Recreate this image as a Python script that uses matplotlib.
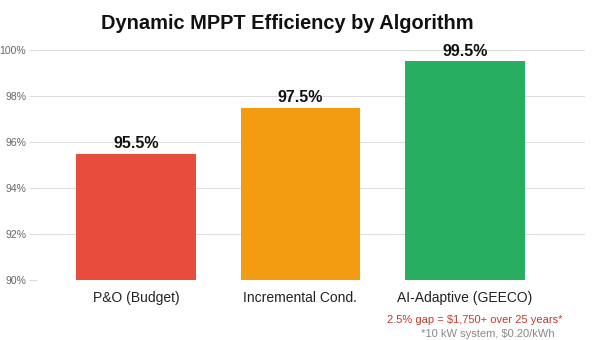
import matplotlib
matplotlib.use("Agg")
from matplotlib import pyplot as plt
from matplotlib.ticker import FuncFormatter

# data
algorithms = ["P&O (Budget)", "Incremental Cond.", "AI-Adaptive (GEECO)"]
efficiency = [95.5, 97.5, 99.5]
bar_colors = ["#e74c3c", "#f39c12", "#27ae60"]
y_ticks = [90, 92, 94, 96, 98, 100]

plt.rcParams["font.family"] = ["Liberation Sans", "DejaVu Sans"]

fig = plt.figure(figsize=(6, 3.4), dpi=100)
ax = fig.add_axes([0.062, 0.176, 0.913, 0.677])

x = range(len(algorithms))
ax.bar(x, efficiency, width=0.727, color=bar_colors, zorder=2)
for i, v in enumerate(efficiency):
    ax.text(i, v + 0.12, "{}%".format(v), ha="center", va="bottom",
            fontsize=11.5, fontweight="bold", color="#111111")

ax.set_ylim(90, 100)
ax.set_xlim(-0.6, 2.73)
ax.set_yticks(y_ticks)
ax.yaxis.set_major_formatter(FuncFormatter(lambda v, p: "{:d}%".format(int(v))))
ax.set_xticks(list(x))
ax.set_xticklabels(algorithms, fontsize=10, color="#222222")
ax.tick_params(axis="y", labelsize=7.5, labelcolor="#666666", length=6, color="#dddddd", pad=2)
ax.tick_params(axis="x", length=0, pad=8)
ax.grid(axis="y", color="#dddddd", linewidth=0.8, zorder=0)
for s in ax.spines.values():
    s.set_visible(False)

fig.text(0.479, 0.932, "Dynamic MPPT Efficiency by Algorithm", ha="center", va="center",
         fontsize=14.4, fontweight="bold", color="#111111")
fig.text(0.938, 0.06, "2.5% gap = $1,750+ over 25 years*", ha="right", va="center",
         fontsize=8, color="#c0392b")
fig.text(0.925, 0.018, "*10 kW system, $0.20/kWh", ha="right", va="center",
         fontsize=8, color="#888888")

fig.savefig("out.png", dpi=100, facecolor="white")
